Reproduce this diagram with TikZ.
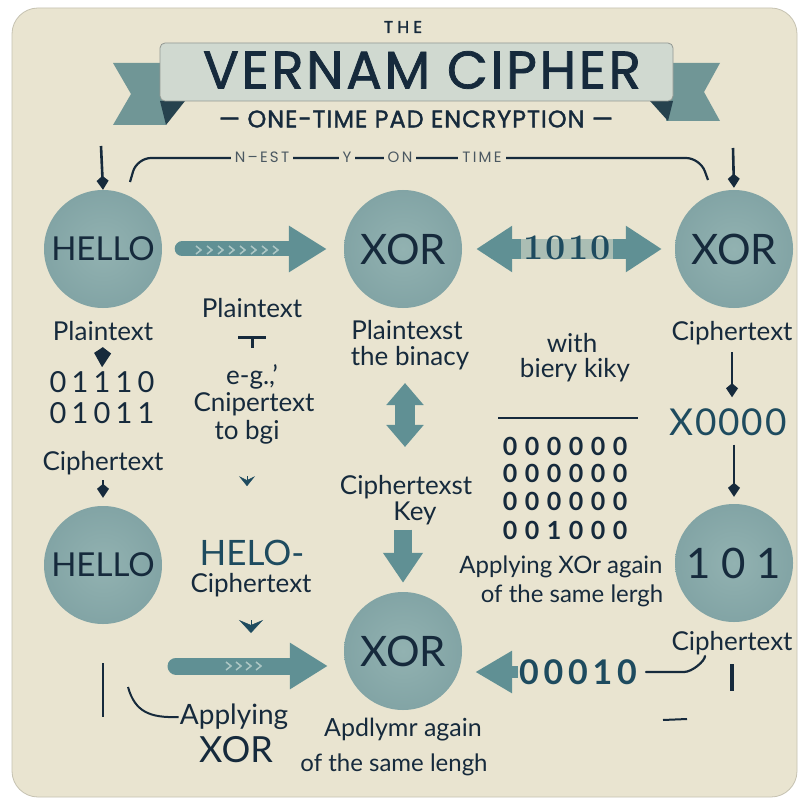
\documentclass[tikz,border=0pt]{standalone}
\usepackage{fontspec}
\usepackage{graphicx}
\setmainfont{Lato}
\newfontfamily\titlefont{Poppins}
\newfontfamily\titlemed{Poppins}[FakeBold=1.4]
\newfontfamily\numfont{Latin Modern Roman}
\usetikzlibrary{arrows.meta}
\definecolor{card}{RGB}{233,228,208}
\definecolor{disc}{RGB}{130,164,165}
\definecolor{discin}{RGB}{146,178,177}
\definecolor{ink}{RGB}{22,42,60}
\definecolor{tealink}{RGB}{30,75,95}
\definecolor{arrowc}{RGB}{96,144,148}
\definecolor{chevc}{RGB}{172,198,196}
\definecolor{bannerc}{RGB}{208,217,208}
\definecolor{tailc}{RGB}{112,150,150}
\definecolor{foldc}{RGB}{38,66,78}
\begin{document}
\begin{tikzpicture}[x=1pt, y=-1pt,
	disc/.style={circle, minimum size=118pt, inner sep=0pt, inner color=discin, outer color=disc, text=ink},
	lbl/.style={text=ink, inner sep=1pt, font=\fontsize{26}{30}\selectfont},
	bits/.style={text=ink, inner sep=1pt, font=\fontsize{29}{32}\selectfont\addfontfeature{LetterSpace=18}},
	zeros/.style={text=ink, inner sep=1pt, font=\bfseries\fontsize{25}{28}\selectfont\addfontfeature{LetterSpace=30}},
	blk/.style={arrowc, line width=15pt, -{Triangle[length=38pt,width=44pt]}},
	drip/.style={ink, line width=2.6pt, -{Kite[length=14pt,width=12pt,inset=5pt]}},
	chev/.style={tealink, line width=0.5pt, -{Stealth[length=10pt,width=16pt,inset=4pt]}},
	brk/.style={fill=card, text=ink!75!card, inner xsep=4pt, inner ysep=1pt, font=\titlefont\fontsize{15}{15}\selectfont\addfontfeature{LetterSpace=15}},
	link/.style={ink, line width=2.2pt, line cap=round}]
	\useasboundingbox (0,0) rectangle (798,799);
	\fill[white] (0,0) rectangle (798,799);
	\filldraw[fill=card, draw=card!85!black, line width=0.8pt, rounded corners=26pt] (12,8) rectangle (797,797);
	
	\fill[tailc] (166,63) -- (113,63) -- (131,94) -- (113,125) -- (166,125) -- cycle;
	\fill[tailc] (666,63) -- (720,63) -- (704,92) -- (720,121) -- (666,121) -- cycle;
	\fill[foldc] (160,101) -- (185,101) -- (166,125) -- cycle;
	\fill[foldc] (673,101) -- (650,101) -- (668,121) -- cycle;
	\filldraw[fill=bannerc, draw=bannerc!70!black, line width=0.8pt, rounded corners=5pt] (160,43) rectangle (673,101);
	\node[text=ink] (the) at (403,27) {\titlemed\fontsize{17}{17}\selectfont\addfontfeature{LetterSpace=25}THE};
	\node[text=ink, inner sep=0pt] (title) at (422,70) {\titlemed\fontsize{53}{53}\selectfont\addfontfeature{LetterSpace=5}VERNAM CIPHER};
	\node[text=ink, inner sep=0pt] (sub) at (416,119) {\titlemed\fontsize{24}{24}\selectfont\addfontfeature{LetterSpace=4}— ONE-TIME PAD ENCRYPTION —};
	
	\draw[ink, line width=2.2pt, rounded corners=14pt] (130,182) -- (137,158) -- (700,158) -- (708,180);
	\node[brk] (w1) at (262,157) {N–EST};
	\node[brk] (w2) at (347,157) {Y};
	\node[brk] (w3) at (400,157) {ON};
	\node[brk] (w4) at (482,157) {TIME};
	
	\node[disc] (hello1) at (103,249) {\fontsize{33}{33}\selectfont HELLO};
	\node[disc] (xor1) at (403,249) {\fontsize{42}{42}\selectfont XOR};
	\node[disc] (xor2) at (734,249) {\fontsize{42}{42}\selectfont XOR};
	\node[disc] (hello2) at (103,565) {\fontsize{33}{33}\selectfont HELLO};
	\node[disc] (xor3) at (403,651) {\fontsize{42}{42}\selectfont XOR};
	\node[disc] (ones) at (734,563) {\fontsize{42}{42}\selectfont\addfontfeature{LetterSpace=25}101};
	
	\coordinate (d1) at (101,146);
	\coordinate (d2) at (733,148);
	\draw[drip] (d1) -- (hello1.north);
	\draw[drip, shorten >=2pt] (d2) -- (xor2.north);
	
	\draw[blk, line cap=round, shorten <=20pt, shorten >=17pt] (hello1) -- (xor1);
	\draw[chevc, line width=1.5pt] (196,246) -- (201,250) -- (196,254) (207,246) -- (212,250) -- (207,254) (218,246) -- (223,250) -- (218,254) (229,246) -- (234,250) -- (229,254) (240,246) -- (245,250) -- (240,254) (251,246) -- (256,250) -- (251,254) (262,246) -- (267,250) -- (262,254) (273,246) -- (278,250) -- (273,254);
	\draw[arrowc, line width=20pt, {Triangle[length=36pt,width=44pt]}-{Triangle[length=36pt,width=44pt]}, shorten <=14pt, shorten >=13pt] (xor1) -- (xor2);
	\node[text=tealink, fill=card, fill opacity=0.55, text opacity=1, inner sep=2pt] (key1) at (567,248) {\numfont\bfseries\fontsize{36}{36}\selectfont\addfontfeature{LetterSpace=6}1010};
	
	\node[lbl] (ptL) at (103,331) {Plaintext};
	\node[bits] (bin1) at (102,382) {01110};
	\node[bits] (bin2) at (102,413) {01011};
	\node[lbl] (cpL) at (103,463) {Ciphertext};
	\draw[ink, line width=2pt, -{Kite[length=20pt,width=17pt,inset=6pt]}, shorten <=6pt, shorten >=3pt] (ptL.south) -- (bin1.north);
	\draw[drip, shorten <=4pt, shorten >=8pt] (cpL.south) -- (hello2.north);
	
	\node[lbl] (ptM) at (252,308) {Plaintext};
	\node[lbl] (egM) at (252,377) {e-g.,’};
	\node[lbl] (cnM) at (254,404) {Cnipertext};
	\node[lbl] (tbM) at (247,432) {to bgi};
	\node[text=tealink, inner sep=1pt, font=\fontsize{35}{35}\selectfont] (heloM) at (252,553) {HELO-};
	\node[lbl] (cpM) at (251,585) {Ciphertext};
	\draw[ink, line width=3pt, {Bar[width=28pt,line width=3pt]}-, shorten <=17pt, shorten >=15pt] (ptM.south) -- (egM.north);
	\draw[chev] ([yshift=-31pt]tbM.south) -- ([yshift=-41pt]tbM.south);
	\draw[chev, -{Stealth[length=13pt,width=24pt,inset=5pt]}] ([yshift=-22pt]cpM.south) -- ([yshift=-35pt]cpM.south);
	
	\node[lbl] (ptC) at (407,330) {Plaintexst};
	\node[lbl] (binC) at (410,358) {the binacy};
	\node[lbl] (ctC) at (406,487) {Ciphertexst};
	\node[lbl] (keyC) at (415,513) {Key};
	\draw[arrowc, line width=20pt, {Triangle[length=22pt,width=36pt]}-{Triangle[length=22pt,width=36pt]}, shorten <=12pt, shorten >=27pt] ([xshift=-5pt]binC.south) -- ([xshift=-1pt]ctC.north);
	\draw[arrowc, line width=18pt, -{Triangle[length=30pt,width=38pt]}, shorten <=4pt, shorten >=9pt] (keyC.south -| xor3) -- (xor3.north);
	
	\node[lbl] (withR) at (572,343) {with};
	\node[lbl] (kikyR) at (575,370) {biery kiky};
	\coordinate (r1) at (498,418);
	\coordinate (r2) at (638,418);
	\draw[ink, line width=2.6pt] (r1) -- (r2);
	\node[zeros] (g1) at (565,446) {000000};
	\node[zeros] (g2) at (565,473) {000000};
	\node[zeros] (g3) at (565,501) {000000};
	\node[zeros] (g4) at (565,530) {001000};
	\node[lbl, font=\fontsize{24}{28}\selectfont] (appR) at (561,567) {Applying XOr again};
	\node[lbl, font=\fontsize{24}{28}\selectfont] (samR) at (572,596) {of the same lergh};
	
	\node[lbl] (cpR1) at (732,333) {Ciphertext};
	\node[text=tealink, inner sep=1pt, font=\fontsize{37}{37}\selectfont\addfontfeature{LetterSpace=5}] (x0) at (728,422) {X0000};
	\draw[drip, shorten <=6pt, shorten >=10pt] (cpR1.south) -- (cpR1.south |- x0.north);
	\draw[drip, shorten <=8pt, shorten >=7pt] (x0.south -| ones) -- (ones.north);
	
	\node[lbl] (cpR2) at (732,643) {Ciphertext};
	\node[text=tealink, inner sep=1pt, font=\bfseries\fontsize{34}{34}\selectfont\addfontfeature{LetterSpace=14}] (k00010) at (578,672) {00010};
	\draw[arrowc, line width=12pt, -{Triangle[length=37pt,width=40pt]}, shorten >=13pt] (k00010.west) -- (k00010.west -| xor3.east);
	\draw[link] ([xshift=8pt]k00010.east) -- ++(38,0) .. controls +(8,0) and +(0,5) .. ([xshift=-27pt]cpR2.south);
	\draw[ink, line width=4pt] ([yshift=-8pt]cpR2.south) -- ++(0,27);
	\draw[ink, line width=2pt] (663,720) -- (687,719);
	
	\coordinate (ba) at (176,666);
	\draw[blk, line width=17pt, line cap=round, shorten >=16pt] (ba) -- (ba -| xor3.west);
	\draw[chevc, line width=1.5pt] (226,662) -- (231,666) -- (226,670) (236,662) -- (241,666) -- (236,670) (246,662) -- (251,666) -- (246,670) (256,662) -- (261,666) -- (256,670);
	
	\node[lbl, font=\fontsize{28}{30}\selectfont] (applyL) at (234,717) {Applying};
	\node[lbl, font=\fontsize{36}{36}\selectfont] (xorL) at (236,750) {XOR};
	\node[lbl, font=\fontsize{25}{28}\selectfont] (apd) at (403,730) {Apdlymr again};
	\node[lbl, font=\fontsize{24}{28}\selectfont] (samB) at (394,765) {of the same lengh};
	\draw[ink, line width=2.5pt] ([yshift=-39pt]hello2.south) -- ++(0,54);
	\draw[ink, line width=2pt] (128,687) .. controls (135,712) and (150,718) .. (applyL.west);
\end{tikzpicture}
\end{document}
